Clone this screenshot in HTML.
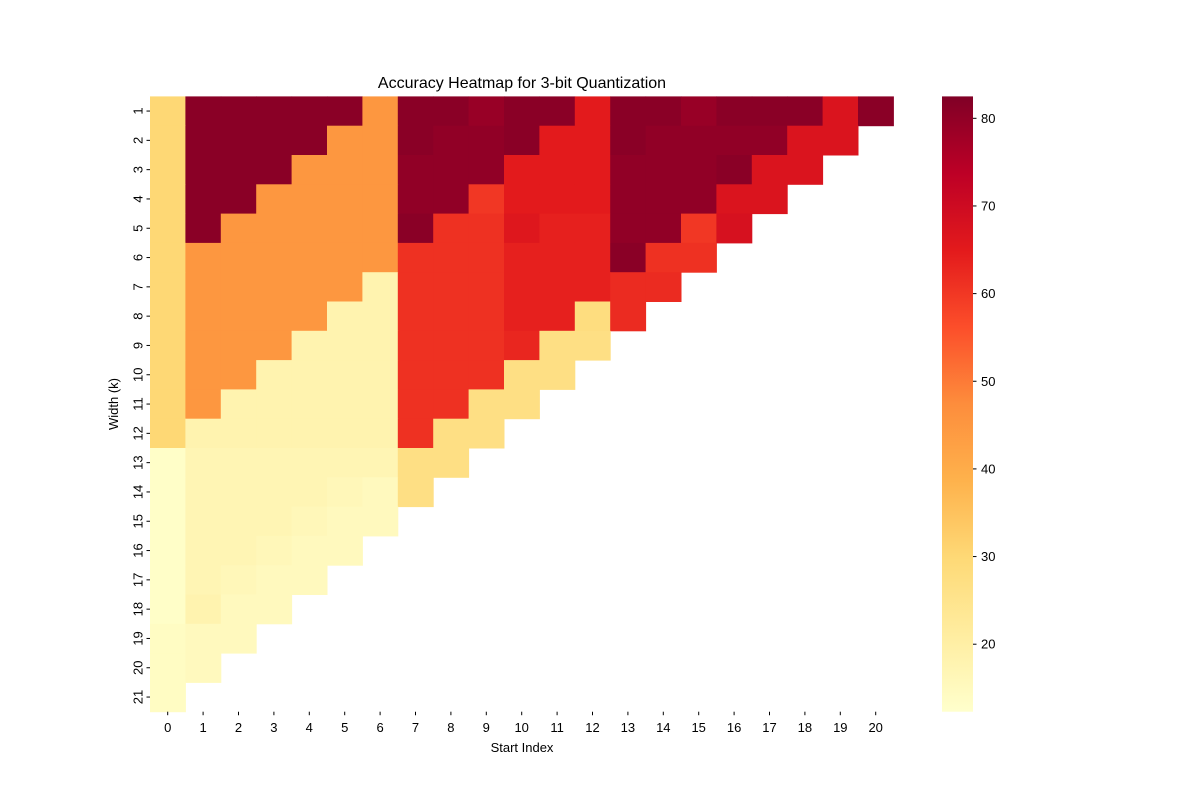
<!DOCTYPE html>
<html><head><meta charset="utf-8">
<style>
html,body{margin:0;padding:0;background:#fff;}
svg{display:block;font-family:"Liberation Sans","DejaVu Sans",sans-serif;}
</style></head>
<body>
<svg id="chart" width="1200" height="800" viewBox="0 0 1200 800">
<defs>
<linearGradient id="cbgrad" x1="0" y1="1" x2="0" y2="0">
<stop offset="0" stop-color="#ffffcc"/><stop offset="0.125" stop-color="#ffeda0"/><stop offset="0.25" stop-color="#fed976"/><stop offset="0.375" stop-color="#feb24c"/><stop offset="0.5" stop-color="#fd8d3c"/><stop offset="0.625" stop-color="#fc4e2a"/><stop offset="0.75" stop-color="#e31a1c"/><stop offset="0.875" stop-color="#bd0026"/><stop offset="1" stop-color="#800026"/>
</linearGradient>
</defs>
<text x="522" y="88" text-anchor="middle" font-size="16">Accuracy Heatmap for 3-bit Quantization</text>
<g id="cells"></g>
<g id="xaxis"></g>
<g id="yaxis"></g>
<text x="522" y="752" text-anchor="middle" font-size="13">Start Index</text>
<text x="118" y="404" text-anchor="middle" font-size="13" transform="rotate(-90 118 404)">Width (k)</text>
<rect x="942" y="96.4" width="31" height="615.3" fill="url(#cbgrad)"/>
<g id="cbticks"></g>
</svg>
<script>
const startIdx = [0,1,2,3,4,5,6,7,8,9,10,11,12,13,14,15,16,17,18,19,20];
const widths = [1,2,3,4,5,6,7,8,9,10,11,12,13,14,15,16,17,18,19,20,21];
const row1 = [30,81,81,81,81,81,45,81,81,79,81,81,65,81,81,79,81,81,81,67,81];
const row2 = [30,81,81,81,81,45,45,81,80,80,81,65,65,81,80,80,80,80,67,67];
const row3 = [30,81,81,81,45,45,45,80,80,80,65,65,65,80,80,80,81,67,67];
const row4 = [30,81,81,45,45,45,45,80,80,60,65,65,65,80,80,80,67,67];
const row5 = [30,81,45,45,45,45,45,81,61,61,66,64,64,80,80,60,68];
const row6 = [30,45,45,45,45,45,45,61,61,61,64,64,64,81,61,61];
const row7 = [30,45,45,45,45,45,18,61,61,61,64,64,64,62,62];
const row8 = [30,45,45,45,45,18,18,61,61,61,64,64,28,62];
const row9 = [30,45,45,45,18,18,18,61,61,61,63,27,27];
const row10 = [30,45,45,18,18,18,18,61,61,61,27,27];
const row11 = [30,45,18,18,18,18,18,61,61,27,27];
const row12 = [30,18,18,18,18,18,18,61,27,27];
const row13 = [13,17,17,17,17,17,17,27,27];
const row14 = [13,17,17,17,17,16,15,27];
const row15 = [13,17,17,17,16,15,15];
const row16 = [13,17,17,16,15,15];
const row17 = [13,17,16,15,15];
const row18 = [13,18,15,15];
const row19 = [14,15,15];
const row20 = [14,15];
const row21 = [14];
const values = [row1,row2,row3,row4,row5,row6,row7,row8,row9,row10,row11,row12,row13,row14,row15,row16,row17,row18,row19,row20,row21];
const cbTicks = [20,30,40,50,60,70,80];
const vmin = 12.3, vmax = 82.5;

const NS = "http://www.w3.org/2000/svg";
const gLeft = 150, gTop = 96.4, cw = 35.4, ch = 29.3;
const cbTop = 96.4, cbBot = 711.7;
const xPos = i => gLeft + i * cw;
const yPos = r => gTop + r * ch;
const cbY = v => cbBot - (v - vmin) / (vmax - vmin) * (cbBot - cbTop);
const stops = ["#ffffcc","#ffeda0","#fed976","#feb24c","#fd8d3c","#fc4e2a","#e31a1c","#bd0026","#800026"];
function hex(c){return [1,3,5].map(i=>parseInt(c.substr(i,2),16));}
function color(v){
  let t = Math.max(0, Math.min(1, (v - vmin) / (vmax - vmin))) * (stops.length - 1);
  let i = Math.min(stops.length - 2, Math.floor(t)), f = t - i;
  const a = hex(stops[i]), b = hex(stops[i+1]);
  return "rgb(" + a.map((x,j)=>Math.round(x + (b[j]-x)*f)).join(",") + ")";
}
const cells = document.getElementById("cells");
values.forEach((row, r) => {
  row.forEach((v, c) => {
    const el = document.createElementNS(NS, "rect");
    el.setAttribute("x", xPos(c)); el.setAttribute("y", yPos(r));
    el.setAttribute("width", cw + 0.5); el.setAttribute("height", ch + 0.5);
    el.setAttribute("fill", color(v));
    
    
    cells.appendChild(el);
  });
});
const xa = document.getElementById("xaxis");
startIdx.forEach((s, i) => {
  const cx = xPos(i) + cw / 2;
  const l = document.createElementNS(NS, "line");
  l.setAttribute("x1", cx); l.setAttribute("x2", cx); l.setAttribute("y1", 711.7); l.setAttribute("y2", 715.2);
  l.setAttribute("stroke", "#000");
  
  
  xa.appendChild(l);
  const t = document.createElementNS(NS, "text");
  t.setAttribute("x", cx); t.setAttribute("y", 732); t.setAttribute("text-anchor", "middle"); t.setAttribute("font-size", "13");
  t.textContent = s;
  
  
  xa.appendChild(t);
});
const ya = document.getElementById("yaxis");
widths.forEach((w, r) => {
  const cy = yPos(r) + ch / 2;
  const l = document.createElementNS(NS, "line");
  l.setAttribute("x1", 146.5); l.setAttribute("x2", 150); l.setAttribute("y1", cy); l.setAttribute("y2", cy);
  l.setAttribute("stroke", "#000");
  
  
  ya.appendChild(l);
  const t = document.createElementNS(NS, "text");
  t.setAttribute("x", 138); t.setAttribute("y", cy); t.setAttribute("text-anchor", "middle"); t.setAttribute("font-size", "13");
  t.setAttribute("dominant-baseline", "central");
  t.setAttribute("transform", "rotate(-90 138 " + cy + ")");
  t.textContent = w;
  
  
  ya.appendChild(t);
});
const cb = document.getElementById("cbticks");
cbTicks.forEach(v => {
  const y = cbY(v);
  const l = document.createElementNS(NS, "line");
  l.setAttribute("x1", 973); l.setAttribute("x2", 976.5); l.setAttribute("y1", y); l.setAttribute("y2", y);
  l.setAttribute("stroke", "#000");
  
  
  cb.appendChild(l);
  const t = document.createElementNS(NS, "text");
  t.setAttribute("x", 981); t.setAttribute("y", y); t.setAttribute("font-size", "13");
  t.setAttribute("dominant-baseline", "central");
  t.textContent = v;
  
  
  cb.appendChild(t);
});
</script>
</body></html>
